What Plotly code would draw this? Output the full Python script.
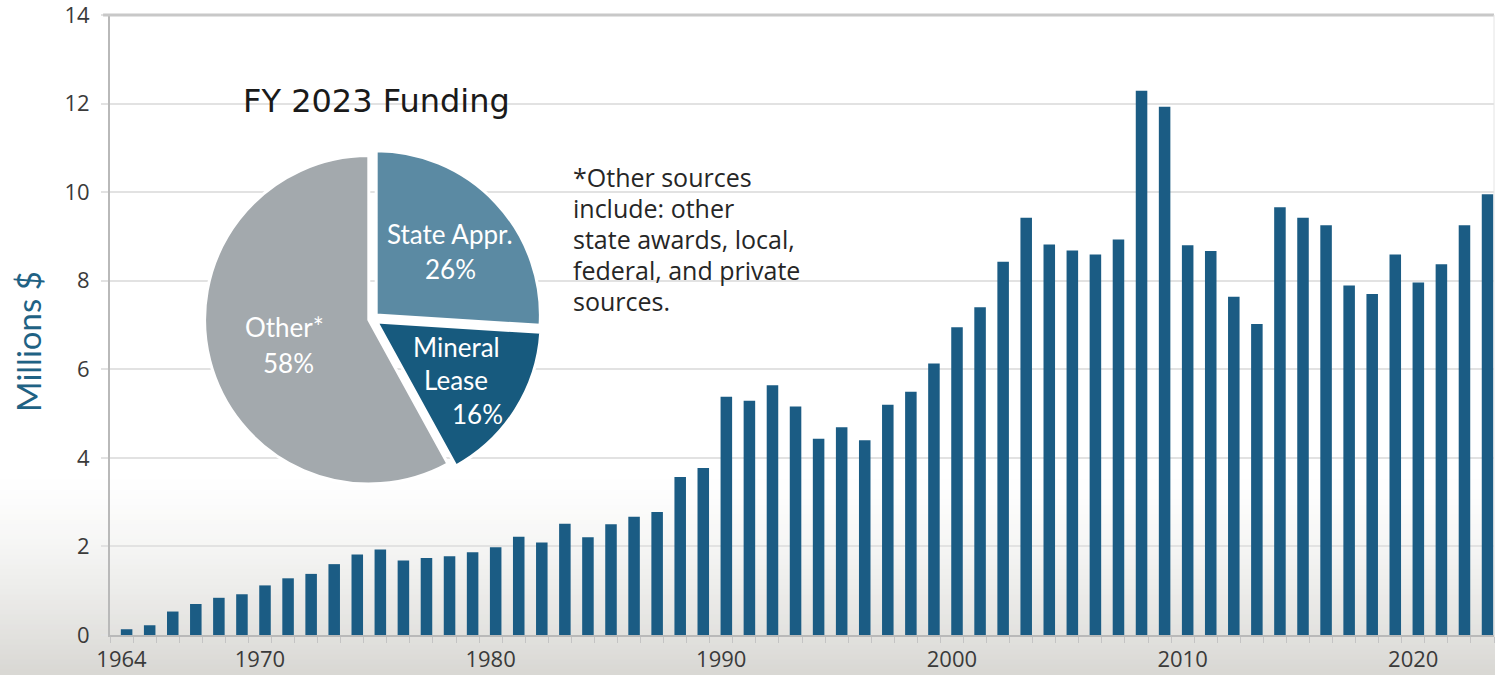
import plotly.graph_objects as go

years = list(range(1964, 2024))
funding = [0.13, 0.22, 0.53, 0.70, 0.84, 0.92, 1.12, 1.28, 1.38, 1.60,
           1.82, 1.93, 1.68, 1.74, 1.78, 1.87, 1.98, 2.22, 2.09, 2.51,
           2.21, 2.50, 2.67, 2.78, 3.57, 3.77, 5.38, 5.29, 5.64, 5.16,
           4.43, 4.69, 4.40, 5.20, 5.49, 6.13, 6.95, 7.40, 8.43, 9.42,
           8.82, 8.68, 8.59, 8.93, 12.29, 11.93, 8.80, 8.67, 7.64, 7.02,
           9.66, 9.42, 9.25, 7.89, 7.70, 8.59, 7.96, 8.37, 9.25, 9.95]

x_tick_years = [1964, 1970, 1980, 1990, 2000, 2010, 2020]
y_ticks = [0, 2, 4, 6, 8, 10, 12, 14]

pie_labels = ["State Appr.", "Mineral Lease", "Other*"]
pie_values = [26, 16, 58]
pie_colors = ["#5b8aa3", "#175a7e", "#a3a9ad"]

title_text = "FY 2023 Funding"
note_lines = ["*Other sources", "include: other", "state awards, local,",
              "federal, and private", "sources."]
y_title = "Millions $"

BAR = "#1b5c84"
L, T, W, H = 110, 15, 1384, 620


def px_x(px):
    return (px - L) / W


def px_y(py):
    return (T + H - py) / H


fig = go.Figure()
fig.add_trace(go.Bar(x=years, y=funding, width=0.5, offset=-0.03,
                     marker=dict(color=BAR, line=dict(width=0)),
                     showlegend=False, hoverinfo="x+y"))

fig.add_trace(go.Pie(labels=pie_labels, values=pie_values, sort=False,
                     direction="clockwise", rotation=0,
                     marker=dict(colors=pie_colors, line=dict(color="white", width=3)),
                     pull=[0.035, 0.035, 0.02], textinfo="none", hoverinfo="label+percent",
                     domain=dict(x=[0.0665, 0.3121], y=[0.2355, 0.7839]),
                     showlegend=False))

# smooth background fade toward the bottom
shapes = []
top_py, bot_py, n = 470, 675, 41
c0 = (255, 255, 255)
c1 = (216, 215, 211)
for i in range(n):
    a = top_py + (bot_py - top_py) * i / n
    b = top_py + (bot_py - top_py) * (i + 1) / n
    t = ((i + 0.5) / n) ** 1.4
    col = "rgb(%d,%d,%d)" % tuple(round(c0[k] + (c1[k] - c0[k]) * t) for k in range(3))
    shapes.append(dict(type="rect", xref="paper", yref="paper", x0=-0.09, x1=1.01,
                       y0=px_y(b), y1=px_y(a) + 0.001, fillcolor=col, line=dict(width=0),
                       layer="below"))
shapes.append(dict(type="line", xref="paper", yref="paper", x0=-0.005, x1=1.0, y0=1, y1=1,
                   line=dict(color="#c8c8c8", width=3)))
shapes.append(dict(type="line", xref="paper", yref="paper", x0=1, x1=1, y0=0, y1=1,
                   line=dict(color="#e4e4e4", width=1)))

annotations = [
    dict(text=title_text, x=px_x(241), y=px_y(101), xref="paper", yref="paper",
         xanchor="left", yanchor="middle", showarrow=False,
         font=dict(family="DejaVu Sans", size=32, color="#1a1a1a")),
    dict(text=y_title, x=px_x(28), y=px_y(342), xref="paper", yref="paper",
         xanchor="center", yanchor="middle", textangle=-90, showarrow=False,
         font=dict(family="Lato", size=33, color="#1f6284")),
]
for k, line in enumerate(note_lines):
    annotations.append(dict(text=line, x=px_x(571), y=px_y(177 + 31 * k), xref="paper", yref="paper",
                            xanchor="left", yanchor="middle", align="left", showarrow=False,
                            font=dict(family="Open Sans", size=25, color="#262626")))
pie_text = [("State Appr.", 450, 234), ("26%", 450, 269), ("Other*", 284, 327), ("58%", 288, 363),
            ("Mineral", 456, 347), ("Lease", 456, 380), ("16%", 477, 414)]
for t, px, py in pie_text:
    annotations.append(dict(text=t, x=px_x(px), y=px_y(py), xref="paper", yref="paper",
                            xanchor="center", yanchor="middle", showarrow=False,
                            font=dict(family="Lato", size=26, color="white")))

fig.update_layout(
    width=1495, height=675,
    margin=dict(l=L, r=1, t=T, b=40, autoexpand=False),
    paper_bgcolor="white", plot_bgcolor="rgba(0,0,0,0)",
    bargap=0.5, shapes=shapes, annotations=annotations,
    xaxis=dict(range=[1963.5, 2023.5], tickmode="array", tickvals=x_tick_years,
               ticks="outside", ticklen=0, tickcolor="rgba(0,0,0,0)",
               tickfont=dict(family="Open Sans", size=22, color="#3a3a3a"),
               ticklabelstandoff=4, ticklabeloverflow="allow", automargin=False,
               showgrid=False, zeroline=False, showline=True, linecolor="#b9b9b9", linewidth=2,
               minor=dict(tickmode="linear", tick0=1963.5, dtick=1, ticks="outside",
                          ticklen=6, tickcolor="#c4c4c4", tickwidth=1, showgrid=False),
               fixedrange=True),
    yaxis=dict(range=[0, 14], tickmode="array", tickvals=y_ticks,
               ticks="outside", ticklen=7, tickcolor="#e2e2e2", tickwidth=2,
               tickfont=dict(family="Open Sans", size=22, color="#3a3a3a"),
               ticklabeloverflow="allow", automargin=False,
               showgrid=True, gridcolor="#e2e2e2", gridwidth=2, zeroline=False,
               showline=True, linecolor="#b9b9b9", linewidth=2, ticklabelstandoff=7,
               fixedrange=True),
)

fig.write_html("out.html")
